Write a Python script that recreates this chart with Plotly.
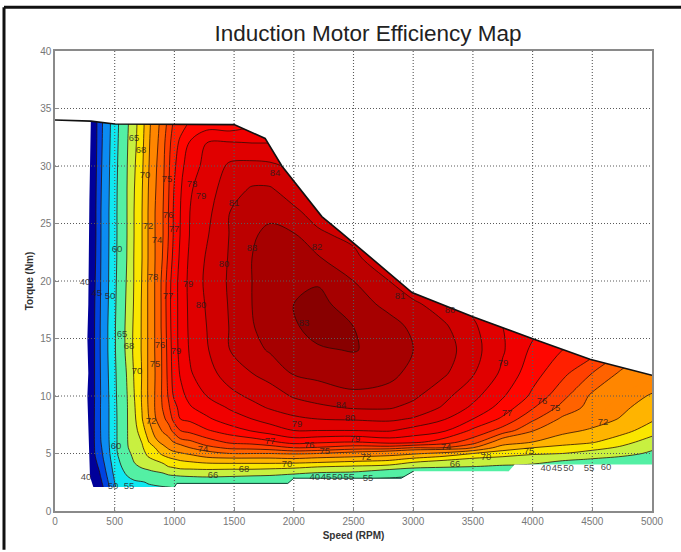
import numpy as np
import plotly.graph_objects as go

TITLE = "Induction Motor Efficiency Map"
X_TITLE = "Speed (RPM)"
Y_TITLE = "Torque (Nm)"
x_ticks = [0, 500, 1000, 1500, 2000, 2500, 3000, 3500, 4000, 4500, 5000]
y_ticks = [0, 5, 10, 15, 20, 25, 30, 35, 40]

torque = [2, 2.5, 3, 3.5, 4, 4.5, 5, 5.5, 6, 7, 8, 9, 10, 12, 14, 16, 18, 20, 22, 24, 26, 28, 30, 32, 34]
speed = [200, 285, 343, 385, 452, 519, 603, 662, 729, 779, 838, 905, 950, 990, 1050, 1130, 1270, 1465, 1650,
         1800, 2000, 2200, 2500, 2800, 3000, 3250, 3500, 3750, 4000, 4250, 4500, 4750, 5000]

# efficiency (%): one list per speed, one value per torque row
efficiency_by_speed = [
    [35, 35, 35, 35, 35, 35, 35, 35, 35, 35, 35, 35, 35, 35, 35, 35, 35, 35, 35, 35, 35, 35, 35, 35, 35],
    [35, 36, 37, 38, 39, 39.5, 40, 40.3, 40.5, 40.7, 41, 41, 41, 41, 41, 41, 41, 40.8, 40.4, 40.1, 40, 39.8, 39.5, 39.2, 39],
    [39, 40.5, 41.5, 42.5, 44, 45, 46, 46.2, 46.3, 46.3, 46.2, 46.1, 46, 46, 46, 46, 45.8, 45.5, 45.2, 45, 45, 44.8, 44.5, 44.2, 44],
    [43, 44.2, 45.3, 46.3, 47.3, 48.3, 49, 49.5, 50, 50.3, 50.4, 50.4, 50.3, 50.5, 50.7, 50.7, 50.5, 50.3, 50.1, 50, 50, 49.8, 49.5, 49.2, 49],
    [49.5, 50.5, 51.5, 52.5, 53.2, 53.9, 54.4, 54.7, 54.9, 55, 55, 55, 55.1, 55.4, 55.7, 55.7, 55.4, 55.2, 55.1, 55, 55, 54.8, 54.6, 54.3, 54],
    [55.8, 56.8, 57.5, 58.1, 58.6, 59.2, 59.8, 60, 60, 60, 60, 60.1, 60.3, 60.6, 61, 61, 60.7, 60.4, 60.1, 60, 60, 59.9, 59.7, 59.4, 59.1],
    [58.2, 59.2, 59.9, 61, 62.2, 63, 64, 64.7, 64.8, 64.8, 64.8, 64.8, 64.9, 65.3, 66, 66, 65.7, 65.4, 65.1, 65, 65, 65, 64.9, 64.7, 64.4],
    [58.8, 59.6, 60.7, 63, 64.6, 65.4, 65.9, 66.3, 66.7, 67.2, 67.5, 67.7, 67.9, 68.2, 68.5, 68.4, 68.2, 68.1, 68.1, 68, 68, 67.9, 67.7, 67.4, 67.2],
    [59.2, 59.8, 61.5, 64.3, 65.8, 66.6, 67.2, 67.7, 68.1, 69.1, 69.9, 70.1, 70.2, 70.1, 70.2, 70.2, 70.2, 70.1, 70, 70, 70, 69.9, 69.7, 69.5, 69.3],
    [59.5, 60.2, 62.5, 64.7, 66.4, 67.6, 68.5, 69.2, 69.8, 70.9, 71.7, 72, 72.1, 72.1, 72.1, 72.1, 72.1, 72.1, 72, 72, 72, 71.9, 71.7, 71.5, 71.2],
    [59.6, 60.5, 63, 65.3, 67, 68.2, 69.2, 70, 71.5, 72.7, 73.9, 74.1, 74.1, 74, 74.1, 74.1, 74.1, 74.1, 74, 74, 74, 73.9, 73.8, 73.6, 73.4],
    [59.7, 60.9, 63.5, 66, 67.6, 69, 70.5, 71.5, 72.5, 74.3, 74.8, 75.1, 75.2, 75.2, 75.2, 75.3, 75.3, 75.3, 75.1, 75, 75, 74.9, 74.8, 74.7, 74.5],
    [59.8, 61, 64.2, 67, 68.4, 69.5, 71.2, 72.2, 73.5, 74.6, 75.3, 75.8, 76.1, 76.3, 76.4, 76.5, 76.6, 76.5, 76.2, 76, 76, 75.9, 75.8, 75.6, 75.2],
    [59.9, 61.5, 64.5, 67.2, 68.6, 69.9, 71.5, 72.8, 74, 75.2, 76.2, 76.6, 77, 77.3, 77.4, 77.5, 77.5, 77.5, 77.2, 77, 77, 76.9, 76.7, 76.5, 76],
    [60, 62, 64.8, 67.5, 69, 70.3, 71.8, 73.3, 74.6, 76, 77, 77.3, 77.7, 78.1, 78.3, 78.3, 78.3, 78.3, 78.2, 78.05, 78, 77.9, 77.6, 77.2, 76.5],
    [60.5, 62.5, 65, 67.5, 69.2, 70.6, 72.3, 74, 74.8, 76.3, 77.2, 77.9, 78.3, 78.9, 79.1, 79.2, 79.25, 79.3, 79.2, 79.05, 79, 78.9, 78.7, 78.1, 77],
    [61, 62.8, 65.2, 67.6, 69.4, 71.2, 73.5, 74.7, 75.5, 76.9, 77.8, 78.5, 79, 79.6, 79.9, 80, 80.1, 80.2, 80.1, 79.9, 79.7, 79.5, 79.2, 79, 77.2],
    [60.5, 62.5, 65, 67.5, 69.4, 71.5, 74, 75.2, 76.2, 77.5, 78.6, 79.1, 79.7, 80.5, 81, 81.05, 81.1, 81.15, 81.1, 81.05, 81, 80.6, 80.2, 79.1, 77],
    [60.5, 62.5, 64.7, 67.5, 69.4, 71.5, 74, 75.3, 76.4, 78.1, 79, 79.7, 80.2, 81, 81.7, 81.95, 82, 82, 82, 81.9, 81.6, 81.1, 80.3, 79, 77.5],
    [60, 62.5, 64.5, 67.3, 69.4, 71.5, 74, 75.5, 76.8, 78.5, 79.4, 80.1, 80.5, 81.4, 82.1, 82.3, 82.4, 82.5, 82.4, 82.2, 81.8, 81.1, 80.2, 79, 77.5],
    [58, 62, 63.5, 67, 69.2, 71.7, 74.2, 76, 77.4, 79, 79.8, 80.5, 81.1, 82.1, 82.5, 82.9, 83, 82.9, 82.6, 82.1, 81.2, 80.5, 79.8, 79, 78],
    [56, 61.5, 63, 66, 69, 71.3, 74, 75.9, 77.2, 79, 80, 80.8, 81.4, 82.3, 82.9, 83.3, 83.3, 82.9, 82.1, 81.2, 80.6, 79.9, 79.3, 78.5, 78],
    [54, 58, 62, 65.8, 68.5, 70.9, 73.5, 75.5, 77, 79, 80.1, 81.1, 81.8, 82.5, 83.05, 83, 82.5, 82, 81.3, 80.7, 80, 79.5, 79, 78.5, 78],
    [54, 57, 61, 64.2, 68, 70.5, 72.9, 75.5, 77.4, 79.1, 80.2, 81.1, 81.6, 82.3, 82.7, 82.4, 81.7, 81, 80, 79.3, 78.8, 78.4, 78, 77.5, 77],
    [54, 57, 60, 63.5, 66.7, 69.5, 72.3, 75, 77.3, 78.6, 79.9, 80.7, 81.2, 81.7, 82, 81.8, 81.2, 80.2, 79.4, 78.8, 78.3, 78, 77.6, 77.2, 76.8],
    [54, 57, 60, 63.5, 66, 68.5, 71.5, 75, 76.5, 78.2, 79.1, 79.9, 80.3, 81.2, 81.5, 81.2, 80.5, 79.8, 79, 78.5, 78, 77.6, 77.2, 76.8, 76.4],
    [54, 56, 60, 63.5, 65.6, 67.6, 70, 74, 75.5, 76.8, 78, 78.8, 79.3, 80.1, 80.4, 80.2, 79.7, 79, 78.5, 78, 77.6, 77.2, 76.8, 76.4, 76],
    [54, 56, 58, 61, 65.2, 67.2, 69, 71, 73.2, 75.6, 76.8, 77.6, 78.1, 78.8, 79.1, 79, 78.5, 78, 77.6, 77.2, 76.8, 76.4, 76, 75.6, 75.2],
    [54, 56, 58, 60, 64.7, 66.6, 68.3, 70, 72, 74.1, 75.2, 76.1, 76.8, 77.4, 77.8, 78.3, 78.5, 78.2, 77.8, 77.4, 77, 76.6, 76.2, 75.8, 75.4],
    [54, 56, 57, 59, 63, 65.7, 68, 69.4, 70.8, 72.6, 73.8, 74.7, 75.3, 76.3, 77, 77.5, 77.6, 77.5, 77.2, 76.8, 76.4, 76, 75.6, 75.2, 74.8],
    [54, 56, 57, 59, 62.5, 64.8, 67, 68.8, 70.2, 71.7, 73, 73.6, 73.8, 75, 76.5, 77, 77, 76.8, 76.5, 76.2, 75.8, 75.4, 75, 74.6, 74.2],
    [55, 56, 57, 59, 62, 64, 66, 67.6, 68.8, 70.7, 71.8, 72.4, 72.9, 73.8, 75, 75.5, 75.6, 75.5, 75.2, 75, 74.6, 74.2, 73.8, 73.4, 73],
    [55, 56, 58, 59, 61.5, 63, 64.5, 65.5, 67, 69, 70.3, 71, 71.8, 73.5, 74, 74.3, 74.3, 74.2, 74, 73.8, 73.5, 73.2, 72.8, 72.4, 72],
]

# contour levels and the fill of the band starting at each level
levels = [40, 45, 50, 55, 60, 65, 68, 70, 72, 74, 75, 76, 77, 78, 79, 80, 81, 82, 83, 84]
band_colors = ["#00009a", "#0044e0", "#0c8cf2", "#10e8f0", "#54f0a4", "#c8f040", "#fae600", "#ffb400",
               "#ff8600", "#ff6200", "#ff4000", "#ff2000", "#ff0600", "#f00000", "#e00000", "#d00000",
               "#bc0000", "#a60000", "#880000"]

# limits of the measured region
upper_speed = [0, 300, 500, 1000, 1500, 1760, 1900, 2235, 2387, 2990, 3500, 3995, 4480, 5000]
upper_torque = [34, 33.9, 33.65, 33.6, 33.6, 32.4, 30, 25.6, 24.3, 19, 16.9, 15, 13.2, 11.8]
lower_speed = [321, 1000, 1020, 1950, 2000, 2900, 3000, 3800, 3850, 5000]
lower_torque = [2.08, 2.08, 2.4, 2.4, 2.85, 2.85, 3.45, 3.45, 4.05, 4.05]
left_torque = [2.08, 3, 5, 8, 10, 12, 15, 18, 20, 23, 27, 30, 33.7]
left_speed = [321, 293, 288, 279, 271, 279, 271, 279, 279, 284, 288, 293, 299]

# inline contour labels
label_speed = [662, 720, 754, 938, 1147, 1223, 1843, 1499, 946, 779, 997, 854, 519, 1650, 2194, 1415, 821, 1114,
               251, 350, 460, 946, 1223, 2085, 2889, 3308, 561, 620, 879, 1013, 838, 687, 804, 511, 1240, 1800,
               2027, 2395, 2471, 2513, 2130, 2260, 2605, 1323, 1583, 1943, 260, 486, 620, 2175, 2270, 2365, 2460,
               2621, 3275, 3350, 3610, 3970, 3752, 3785, 4079, 4188, 4589, 4110, 4205, 4300, 4472, 4615]
label_torque = [32.4, 31.3, 29.2, 28.8, 28.4, 27.3, 29.3, 26.7, 25.7, 24.7, 24.5, 23.5, 22.7, 22.8, 22.9, 21.4, 20.3, 19.7,
                19.9, 18.9, 18.6, 18.6, 17.9, 16.3, 18.6, 17.4, 15.3, 14.3, 14.4, 13.9, 12.7, 12.1, 7.8, 5.6, 5.3, 6.0,
                7.5, 9.2, 8.0, 6.2, 5.7, 5.2, 4.6, 3.1, 3.6, 4.0, 2.9, 2.1, 2.1, 2.9, 2.9, 2.9, 2.9,
                2.85, 5.5, 4.0, 4.6, 5.2, 12.8, 8.5, 9.5, 8.9, 7.7, 3.7, 3.7, 3.7, 3.7, 3.8]
label_text = ["65", "68", "70", "75", "78", "79", "84", "81", "76", "72", "77", "74", "60", "83", "82", "80", "78", "79",
              "40", "45", "50", "77", "80", "83", "81", "80", "65", "68", "76", "79", "75", "70", "72", "60", "74", "77",
              "79", "84", "80", "79", "76", "75", "72", "66", "68", "70", "40", "50", "55", "40", "45", "50", "55",
              "55", "74", "66", "70", "75", "79", "77", "76", "75", "72", "40", "45", "50", "55", "60"]

z = np.array(efficiency_by_speed).T

zmin, zmax = levels[0], levels[-1]
# plotly spreads a fill colorscale over start - size/2 .. end + size/2
span_lo, span_hi = zmin - 0.5, zmax + 0.5
colorscale = [[0, band_colors[0]]]
for lo, hi, col in zip(levels[:-1], levels[1:], band_colors):
    colorscale.append([(lo - span_lo) / (span_hi - span_lo), col])
    colorscale.append([(hi - span_lo) / (span_hi - span_lo), col])
colorscale.append([1, band_colors[-1]])

fig = go.Figure()
fig.add_trace(go.Contour(
    x=speed, y=torque, z=z, colorscale=colorscale, showscale=False,
    autocontour=False, contours=dict(start=zmin, end=zmax, size=1, coloring="fill"),
    line=dict(width=0, smoothing=1.0), hoverinfo="skip"))
for lev in levels[1:-1]:
    fig.add_trace(go.Contour(
        x=speed, y=torque, z=z, showscale=False, autocontour=False,
        contours=dict(start=lev, end=lev, size=1, coloring="none"),
        line=dict(color="rgba(40,10,5,0.85)", width=0.9, smoothing=1.0), hoverinfo="skip"))

# white cover outside the measured region
mask_x = [0, 5000] + lower_speed[::-1] + left_speed[1:] + upper_speed[1:] + [5000, 0, 0]
mask_y = [0, 0] + lower_torque[::-1] + left_torque[1:] + upper_torque[1:] + [40, 40, 0]
fig.add_trace(go.Scatter(x=mask_x, y=mask_y, mode="lines", fill="toself", fillcolor="white",
                         line=dict(width=0), hoverinfo="skip", showlegend=False))

# dotted grid above the map
grid_line = dict(color="#5a5a5a", width=1.1, dash="1px,2px")
for xt in x_ticks[1:-1]:
    fig.add_trace(go.Scatter(x=[xt, xt], y=[y_ticks[0], y_ticks[-1]], mode="lines", showlegend=False,
                             hoverinfo="skip", line=grid_line))
for yt in y_ticks[1:-1]:
    fig.add_trace(go.Scatter(x=[x_ticks[0], x_ticks[-1]], y=[yt, yt], mode="lines", showlegend=False,
                             hoverinfo="skip", line=grid_line))

fig.add_trace(go.Scatter(x=upper_speed, y=upper_torque, mode="lines", showlegend=False, hoverinfo="skip",
                         line=dict(color="#111111", width=1.6)))
fig.add_trace(go.Scatter(x=lower_speed[1:7], y=lower_torque[1:7], mode="lines", showlegend=False, hoverinfo="skip",
                         line=dict(color="#0c4030", width=1)))
fig.add_trace(go.Scatter(x=label_speed, y=label_torque, text=label_text, mode="text", showlegend=False, hoverinfo="skip",
                         textfont=dict(family="Liberation Sans", size=9.5, color="rgba(40,30,30,0.85)")))

axis = dict(showgrid=False, zeroline=False, showline=True, linecolor="#8a8a8a", linewidth=1.5, mirror=True,
            ticks="inside", ticklen=4, tickcolor="#8a8a8a",
            tickfont=dict(family="Liberation Sans", size=10, color="#777777"))
fig.update_xaxes(range=[x_ticks[0], x_ticks[-1]], tickvals=x_ticks, **axis,
                 title=dict(text=f"<b>{X_TITLE}</b>", standoff=6, font=dict(family="Liberation Sans", size=10, color="#333333")))
fig.update_yaxes(range=[y_ticks[0], y_ticks[-1]], tickvals=y_ticks, **axis,
                 title=dict(text=f"<b>{Y_TITLE}</b>", standoff=5, font=dict(family="Liberation Sans", size=10, color="#333333")))
fig.update_layout(
    width=681, height=552, margin=dict(l=55, r=29, t=51, b=39), paper_bgcolor="white", plot_bgcolor="white",
    showlegend=False,
    title=dict(text=TITLE, x=368 / 681, xanchor="center", y=1 - 33 / 552, yanchor="middle",
               font=dict(family="Liberation Sans", size=22.5, color="#222222")),
    shapes=[
        dict(type="line", xref="paper", yref="paper", x0=-51 / 597, x1=1.06, y0=1 + 44 / 462, y1=1 + 44 / 462,
             line=dict(color="#111111", width=3)),
        dict(type="line", xref="paper", yref="paper", x0=-51 / 597, x1=-51 / 597, y0=-39 / 462, y1=1 + 44 / 462,
             line=dict(color="#111111", width=3)),
    ],
)
fig.write_html("out.html", config=dict(displayModeBar=False),
               post_script="document.body.style.margin='0';document.body.style.overflow='hidden';")
